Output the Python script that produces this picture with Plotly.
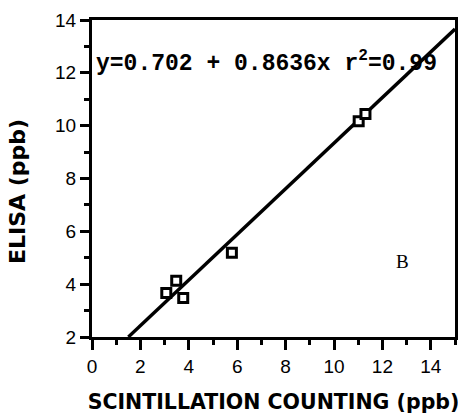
import plotly.graph_objects as go

# Data
scint_x = [3.07, 3.48, 3.77, 5.78, 11.02, 11.30]
elisa_y = [3.67, 4.13, 3.48, 5.19, 10.17, 10.44]
intercept = 0.702
slope = 0.8636
x_tickvals = [0, 2, 4, 6, 8, 10, 12, 14]
y_tickvals = [2, 4, 6, 8, 10, 12, 14]

x_range = [0, 15]
y_range = [2, 14]
x_start = (y_range[0] - intercept) / slope
line_x = [x_start, x_range[1]]
line_y = [intercept + slope * v for v in line_x]

fig = go.Figure()
fig.add_trace(go.Scatter(x=line_x, y=line_y, mode="lines",
                         line=dict(color="black", width=3.4), showlegend=False))
fig.add_trace(go.Scatter(x=scint_x, y=elisa_y, mode="markers",
                         marker=dict(symbol="square", size=9, color="white",
                                     line=dict(color="black", width=3)),
                         showlegend=False))

tick_font = dict(family="Liberation Sans, Arial", size=19, color="black")
common = dict(ticks="outside", tickwidth=3, tickcolor="black", showline=True,
              linewidth=3, linecolor="black", mirror=True, showgrid=False,
              zeroline=False, tickfont=tick_font, automargin=False)
fig.update_xaxes(range=x_range, tickvals=x_tickvals, ticklen=10,
                 minor=dict(dtick=1, tick0=0, ticks="outside", ticklen=5, tickwidth=3,
                            tickcolor="black", showgrid=False),
                 title=dict(text="<b>SCINTILLATION COUNTING (ppb)</b>",
                            font=dict(family="DejaVu Sans", size=20.5, color="black"),
                            standoff=19),
                 **common)
fig.update_yaxes(range=y_range, tickvals=y_tickvals, ticklen=9,
                 minor=dict(dtick=1, tick0=0, ticks="outside", ticklen=5, tickwidth=3,
                            tickcolor="black", showgrid=False),
                 **common)

W, H = 458, 420
ml, mr, mt, mb = 92, 3, 20, 83
yt_px, yt_py = 17, 192  # pixel centre of the y-axis title

fig.add_annotation(x=(yt_px - ml) / (W - ml - mr), y=(H - mb - yt_py) / (H - mt - mb),
                   xref="paper", yref="paper", xanchor="center", yanchor="middle",
                   showarrow=False, text="<b>ELISA (ppb)</b>", textangle=-90,
                   font=dict(family="DejaVu Sans", size=22, color="black"))
fig.add_annotation(x=7.23, y=12.4, xref="x", yref="y", showarrow=False,
                   xanchor="center", yanchor="middle",
                   text="<b>y=0.702 + 0.8636x r<sup>2</sup>=0.99</b>",
                   font=dict(family="Liberation Mono, Courier New", size=23, color="black"))
fig.add_annotation(x=12.85, y=4.84, xref="x", yref="y", showarrow=False,
                   xanchor="center", yanchor="middle",
                   text="B",
                   font=dict(family="Liberation Serif, Times New Roman", size=19, color="black"))

fig.update_layout(width=W, height=H, margin=dict(l=ml, r=mr, t=mt, b=mb),
                  plot_bgcolor="white", paper_bgcolor="white")

fig.write_html("out.html", config={"displayModeBar": False},
               post_script="document.body.style.margin='0';document.body.style.overflow='hidden';")
